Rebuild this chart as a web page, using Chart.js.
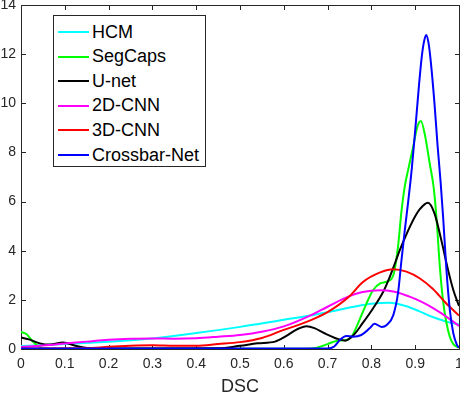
<!DOCTYPE html>
<html>
<head>
<meta charset="utf-8">
<script src="https://cdn.jsdelivr.net/npm/chart.js@4"></script>
<style>
  html, body { margin: 0; padding: 0; background: #fff; }
  #wrap { position: relative; width: 460px; height: 394px; }
  #legend {
    position: absolute; left: 53px; top: 15px; width: 153px; height: 152px;
    box-sizing: border-box; border: 1px solid #262626; background: #fff;
    font-family: "Liberation Sans", Arial, sans-serif; font-size: 18px; color: #000;
  }
  #legend .row { position: absolute; left: 4px; height: 24px; display: flex; align-items: center; white-space: nowrap; }
  #legend .sw { width: 31px; height: 2px; margin-right: 3px; }
</style>
</head>
<body>
<div id="wrap">
  <canvas id="chart" width="460" height="394"></canvas>
  <div id="legend"></div>
</div>
<script>
// density curves of DSC
const seriesNames = ['HCM', 'SegCaps', 'U-net', '2D-CNN', '3D-CNN', 'Crossbar-Net'];

const hcmX = [0, 0.1, 0.2, 0.3, 0.4, 0.5, 0.6, 0.66, 0.7, 0.76, 0.8, 0.84, 0.88, 0.91, 0.94, 0.97, 1];
const hcmY = [0.12, 0.2, 0.3, 0.43, 0.65, 0.9, 1.19, 1.36, 1.5, 1.72, 1.84, 1.88, 1.74, 1.53, 1.3, 1.12, 1.0];

const segcapsX = [0, 0.013, 0.025, 0.036, 0.05, 0.1, 0.65, 0.67, 0.7, 0.72, 0.745, 0.755, 0.766, 0.789, 0.804, 0.82, 0.835, 0.85, 0.861, 0.868, 0.876, 0.884, 0.895, 0.905, 0.913, 0.923, 0.933, 0.942, 0.949, 0.956, 0.964, 0.971, 0.979, 0.987, 1];
const segcapsY = [0.7, 0.6, 0.35, 0.16, 0.03, 0.01, 0.01, 0.03, 0.2, 0.33, 0.38, 0.5, 0.9, 1.86, 2.4, 2.67, 2.74, 3.0, 4.2, 5.5, 6.6, 7.3, 8.2, 9.05, 9.28, 8.64, 7.56, 6.6, 5.25, 3.4, 1.9, 1.1, 0.5, 0.2, 0.05];

const unetX = [0, 0.02, 0.043, 0.066, 0.096, 0.127, 0.157, 0.2, 0.45, 0.5, 0.54, 0.58, 0.603, 0.63, 0.652, 0.67, 0.693, 0.72, 0.74, 0.76, 0.78, 0.804, 0.827, 0.842, 0.854, 0.865, 0.876, 0.888, 0.9, 0.911, 0.929, 0.944, 0.96, 0.975, 0.987, 1];
const unetY = [0.47, 0.38, 0.23, 0.18, 0.26, 0.12, 0.03, 0.02, 0.03, 0.13, 0.23, 0.3, 0.5, 0.8, 0.93, 0.85, 0.64, 0.43, 0.34, 0.58, 1.05, 1.66, 2.33, 2.94, 3.5, 4.03, 4.5, 4.98, 5.4, 5.7, 5.95, 5.52, 4.4, 3.22, 2.4, 1.75];

const cnn2dX = [0, 0.05, 0.1, 0.15, 0.2, 0.25, 0.3, 0.35, 0.4, 0.45, 0.5, 0.55, 0.6, 0.66, 0.7, 0.747, 0.78, 0.82, 0.85, 0.88, 0.9, 0.93, 0.96, 1];
const cnn2dY = [0.08, 0.14, 0.22, 0.3, 0.38, 0.42, 0.43, 0.42, 0.44, 0.5, 0.57, 0.7, 0.92, 1.36, 1.72, 2.13, 2.32, 2.39, 2.34, 2.18, 2.04, 1.78, 1.45, 0.94];

const cnn3dX = [0, 0.15, 0.2, 0.25, 0.3, 0.35, 0.4, 0.45, 0.5, 0.55, 0.6, 0.64, 0.68, 0.7, 0.75, 0.78, 0.82, 0.85, 0.88, 0.91, 0.94, 0.97, 1];
const cnn3dY = [0.02, 0.03, 0.09, 0.13, 0.15, 0.13, 0.13, 0.2, 0.28, 0.45, 0.78, 1.02, 1.32, 1.5, 2.15, 2.72, 3.12, 3.25, 3.15, 2.88, 2.45, 1.87, 1.36];

const crossbarX = [0, 0.7, 0.715, 0.728, 0.743, 0.758, 0.777, 0.796, 0.807, 0.823, 0.835, 0.85, 0.861, 0.868, 0.876, 0.884, 0.892, 0.9, 0.908, 0.915, 0.92, 0.925, 0.93, 0.935, 0.944, 0.951, 0.958, 0.964, 0.971, 0.979, 0.987, 0.995, 1];
const crossbarY = [0.02, 0.02, 0.1, 0.37, 0.53, 0.5, 0.57, 0.84, 1.03, 0.9, 0.98, 1.38, 2.3, 3.5, 4.8, 6.0, 7.3, 8.9, 10.6, 11.9, 12.5, 12.78, 12.5, 11.8, 10.0, 8.3, 6.8, 5.3, 3.3, 1.6, 0.64, 0.18, 0.05];

const xTicks = [0, 0.1, 0.2, 0.3, 0.4, 0.5, 0.6, 0.7, 0.8, 0.9, 1];
const xTickLabels = ['0', '0.1', '0.2', '0.3', '0.4', '0.5', '0.6', '0.7', '0.8', '0.9', '1'];
const yTicks = [0, 2, 4, 6, 8, 10, 12, 14];
const yTickLabels = ['0', '2', '4', '6', '8', '10', '12', '14'];

const seriesX = [hcmX, segcapsX, unetX, cnn2dX, cnn3dX, crossbarX];
const seriesY = [hcmY, segcapsY, unetY, cnn2dY, cnn3dY, crossbarY];
const colors = ['#00ffff', '#00ff00', '#000000', '#ff00ff', '#ff0000', '#0000ff'];

const axisColor = '#262626';
const fontFamily = '"Liberation Sans", Arial, sans-serif';
Chart.defaults.font.family = fontFamily;

// matlab style box with inward ticks, drawn under the curves
const axesBox = {
  id: 'axesBox',
  beforeDatasetsDraw(chart) {
    const {ctx, chartArea: a, scales: {x, y}} = chart;
    const L = a.left + 0.5, R = a.right + 0.5, T = a.top + 0.5, B = a.bottom + 0.5;
    const tl = 4.5;
    ctx.save();
    ctx.strokeStyle = axisColor;
    ctx.lineWidth = 1;
    ctx.beginPath();
    ctx.rect(L, T, R - L, B - T);
    xTicks.forEach(v => {
      const px = Math.round(x.getPixelForValue(v)) + 0.5;
      ctx.moveTo(px, B); ctx.lineTo(px, B - tl);
      ctx.moveTo(px, T); ctx.lineTo(px, T + tl);
    });
    yTicks.forEach(v => {
      const py = Math.round(y.getPixelForValue(v)) + 0.5;
      ctx.moveTo(L, py); ctx.lineTo(L + tl, py);
      ctx.moveTo(R, py); ctx.lineTo(R - tl, py);
    });
    ctx.stroke();
    ctx.restore();
  }
};

const datasets = seriesNames.map((name, i) => ({
  label: name,
  data: seriesX[i].map((xv, j) => ({x: xv, y: seriesY[i][j]})),
  borderColor: colors[i],
  borderWidth: 2,
  pointRadius: 0,
  fill: false,
  cubicInterpolationMode: 'monotone',
  order: seriesNames.length - i
}));

new Chart(document.getElementById('chart'), {
  type: 'line',
  data: {datasets},
  options: {
    responsive: false,
    animation: false,
    layout: {padding: {top: 5, right: 1, left: 0, bottom: 0}},
    plugins: {legend: {display: false}, tooltip: {enabled: false}},
    scales: {
      x: {
        type: 'linear', min: 0, max: 1,
        afterBuildTicks: s => { s.ticks = xTicks.map(v => ({value: v})); },
        afterFit: s => { s.height = 45; s.paddingLeft = 0; s.paddingRight = 0; },
        grid: {display: false, drawTicks: false},
        border: {display: false},
        ticks: {
          autoSkip: false, maxRotation: 0, minRotation: 0, padding: 7,
          color: axisColor, font: {size: 14},
          callback: (v, i) => xTickLabels[i]
        },
        title: {display: true, text: 'DSC', color: axisColor, font: {size: 18, lineHeight: 0.8}, padding: {top: 0, bottom: 0}}
      },
      y: {
        type: 'linear', min: 0, max: 14,
        afterBuildTicks: s => { s.ticks = yTicks.map(v => ({value: v})); },
        afterFit: s => { s.width = 21; s.paddingTop = 0; s.paddingBottom = 0; },
        grid: {display: false, drawTicks: false},
        border: {display: false},
        ticks: {
          autoSkip: false, padding: 5,
          color: axisColor, font: {size: 14},
          callback: (v, i) => yTickLabels[i]
        }
      }
    }
  },
  plugins: [axesBox]
});

// legend box inside the axes, top left
const legend = document.getElementById('legend');
seriesNames.forEach((name, i) => {
  const row = document.createElement('div');
  row.className = 'row';
  row.style.top = (4 + i * 24.6) + 'px';
  row.innerHTML = '<span class="sw" style="background:' + colors[i] + '"></span><span>' + name + '</span>';
  legend.appendChild(row);
});
</script>
</body>
</html>
